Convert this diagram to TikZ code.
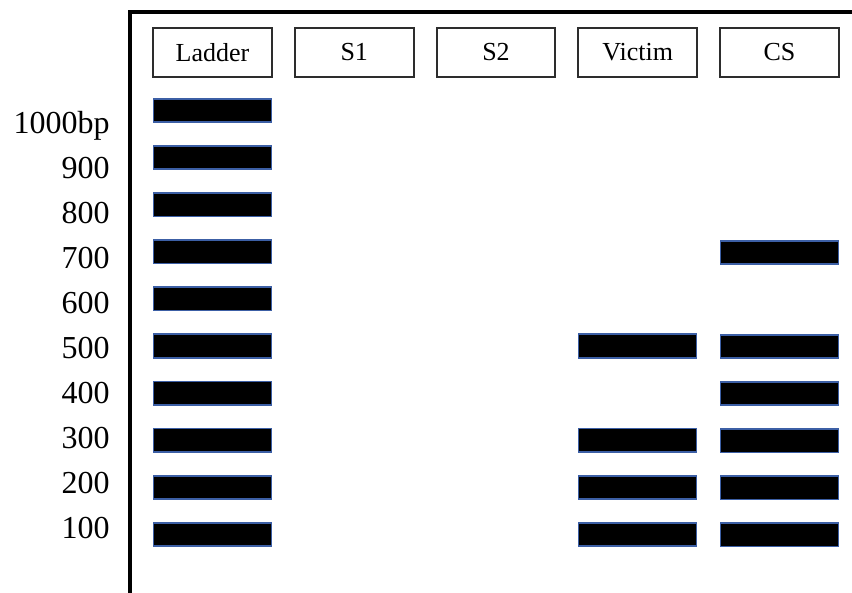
\documentclass[tikz,border=0pt]{standalone}
\usepackage{fontspec}
\setmainfont{Liberation Serif}
\definecolor{bandedge}{RGB}{60,95,165}
\definecolor{boxedge}{RGB}{45,45,45}
\begin{document}
\begin{tikzpicture}[x=0.75pt,y=-0.75pt,
  lanebox/.style={draw=boxedge,line width=1.4pt,minimum width=89pt,minimum height=36.5pt,
    inner sep=0pt,font=\fontsize{19.5}{22}\selectfont},
  band/.style={fill=black,draw=bandedge,line width=1.3pt,minimum width=88.5pt,minimum height=17.5pt,inner sep=0pt},
  sizelabel/.style={anchor=base east,inner sep=0pt,font=\fontsize{24}{28}\selectfont}]
\useasboundingbox (0,0) rectangle (852,592);
% gel frame, open towards the right and bottom
\coordinate (frameTR) at (860,12);
\coordinate (frameTL) at (130,12);
\coordinate (frameBL) at (130,600);
\draw[line width=2.3pt] (frameTR) -- (frameTL) -- (frameBL);
% lane headers
\foreach \name/\txt [count=\i from 0] in {ladder/Ladder,sone/S1,stwo/S2,victim/Victim,cs/CS}
  \node[lanebox] (h-\name) at ({212.5+141.75*\i},52.5) {\raisebox{-1pt}{\txt}};
% size labels
\foreach \txt [count=\i from 0] in {1000bp,900,800,700,600,500,400,300,200,100}
  \node[sizelabel] (lab-\i) at (110,{133+45.1*\i}) {\txt};
% ladder bands
\foreach \i in {0,...,9}
  \node[band] (ladder-\i) at (212.5,{110.5+47.1*\i}) {};
% victim bands: 500, 300, 200, 100
\foreach \i in {5,7,8,9}
  \node[band] (victim-\i) at (637.5,{110.5+47.1*\i}) {};
% CS bands: 700, 500, 400, 300, 200, 100
\foreach \i in {3,5,6,7,8,9}
  \node[band] (cs-\i) at (779.5,{111+47.1*\i}) {};
\end{tikzpicture}
\end{document}
